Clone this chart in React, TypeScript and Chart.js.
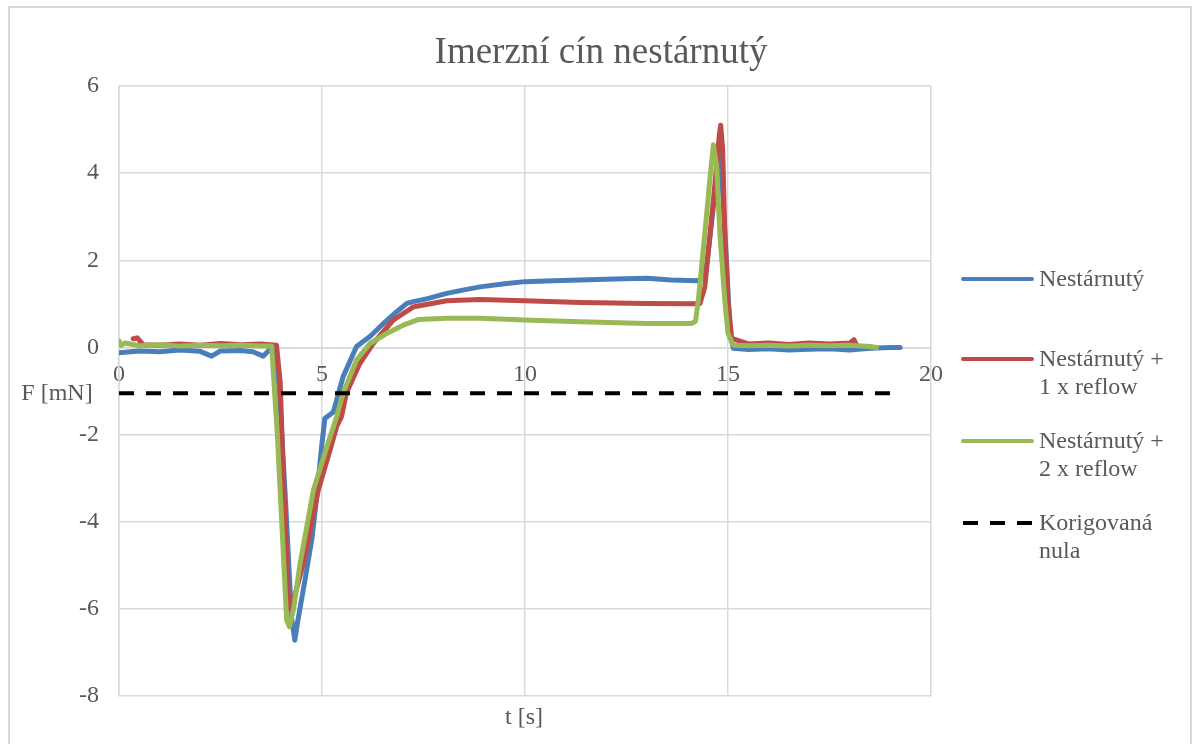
import React, { useEffect, useRef } from "react";
import { Chart, registerables } from "chart.js";

Chart.register(...registerables);

const TITLE = "Imerzní cín nestárnutý";
const X_TITLE = "t [s]";
const Y_TITLE = "F [mN]";

const SERIES_NAMES = ["Nestárnutý", "Nestárnutý + 1 x reflow", "Nestárnutý + 2 x reflow", "Korigovaná nula"];

const blueT = [0, 0.5, 1.0, 1.5, 2.0, 2.28, 2.5, 3.0, 3.3, 3.55, 3.7, 3.85, 3.95, 4.1, 4.25, 4.33, 4.4, 4.58, 4.75, 4.87, 4.99, 5.07, 5.28, 5.52, 5.85, 6.18, 6.47, 6.84, 7.09, 7.25, 7.6, 8.07, 8.5, 8.89, 9.5, 10.0, 10.7, 11.35, 12.2, 13.0, 13.6, 14.23, 14.3, 14.47, 14.64, 14.76, 14.8, 14.88, 14.97, 15.05, 15.13, 15.5, 16.0, 16.5, 17.0, 17.5, 18.0, 18.5, 19.0, 19.24];
const blueF = [-0.12, -0.08, -0.1, -0.06, -0.09, -0.2, -0.08, -0.07, -0.1, -0.2, -0.06, -0.05, -1.0, -3.5, -6.2, -6.72, -6.3, -5.34, -4.4, -3.43, -2.28, -1.63, -1.48, -0.67, 0.02, 0.25, 0.51, 0.82, 1.01, 1.05, 1.12, 1.24, 1.32, 1.39, 1.46, 1.51, 1.53, 1.55, 1.57, 1.59, 1.55, 1.53, 1.55, 1.85, 3.23, 4.15, 4.53, 3.38, 1.85, 0.32, -0.02, -0.05, -0.03, -0.06, -0.04, -0.03, -0.06, -0.02, 0.0, 0.0];

const redT = [0.35, 0.45, 0.6, 1.0, 1.5, 2.0, 2.5, 3.0, 3.5, 3.88, 3.97, 4.05, 4.17, 4.2, 4.3, 4.54, 4.91, 5.2, 5.36, 5.48, 5.6, 5.93, 6.26, 6.76, 7.25, 7.37, 8.07, 8.89, 10.0, 11.35, 13.0, 14.23, 14.31, 14.43, 14.56, 14.68, 14.79, 14.82, 14.87, 14.92, 15.0, 15.09, 15.5, 16.0, 16.5, 17.0, 17.5, 18.0, 18.1, 18.17];
const redF = [0.2, 0.22, 0.06, 0.05, 0.08, 0.05, 0.09, 0.06, 0.08, 0.05, -0.8, -3.0, -5.7, -5.99, -5.8, -4.96, -3.27, -2.35, -1.82, -1.59, -1.05, -0.37, 0.09, 0.63, 0.93, 0.95, 1.07, 1.1, 1.07, 1.03, 1.01, 1.0, 1.01, 1.39, 2.62, 3.77, 4.91, 5.1, 4.53, 2.62, 1.09, 0.21, 0.08, 0.1, 0.07, 0.1, 0.08, 0.1, 0.18, 0.05];

const greenT = [0, 0.05, 0.15, 0.5, 1.0, 1.5, 2.0, 2.5, 3.0, 3.5, 3.76, 3.9, 4.13, 4.2, 4.3, 4.46, 4.79, 5.12, 5.36, 5.52, 5.85, 6.18, 6.59, 7.0, 7.37, 8.07, 8.89, 10.0, 11.35, 13.0, 14.1, 14.2, 14.27, 14.43, 14.56, 14.64, 14.72, 14.8, 14.92, 15.0, 15.13, 15.5, 16.0, 16.5, 17.0, 17.5, 18.0, 18.5, 18.66];
const greenF = [0.15, 0.05, 0.1, 0.04, 0.06, 0.03, 0.05, 0.04, 0.05, 0.03, 0.03, -2.0, -6.26, -6.41, -6.0, -4.96, -3.27, -2.28, -1.59, -1.05, -0.29, 0.09, 0.32, 0.51, 0.64, 0.67, 0.67, 0.63, 0.59, 0.55, 0.55, 0.6, 1.09, 2.62, 3.92, 4.65, 4.15, 2.62, 1.09, 0.32, 0.05, 0.04, 0.05, 0.03, 0.05, 0.04, 0.05, 0.02, 0.0];

const zeroT = [0, 19];
const zeroF = [-1.05, -1.05];

const X_MIN = 0, X_MAX = 20, X_STEP = 5;
const Y_MIN = -8, Y_MAX = 6, Y_STEP = 2;

const COLORS = ["#4a7ebb", "#be4b48", "#98b954", "#000000"];
const TEXT_COLOR = "#595959";
const GRID_COLOR = "#d9d9d9";
const FONT = '"Liberation Serif", "Times New Roman", serif';

const zip = (t: number[], f: number[]) => t.map((x, i) => ({ x, y: f[i] }));

const textPlugin = {
  id: "texts",
  afterDraw(chart: any) {
    const ctx = chart.ctx as CanvasRenderingContext2D;
    ctx.save();
    ctx.fillStyle = TEXT_COLOR;
    ctx.textBaseline = "middle";
    ctx.textAlign = "center";
    ctx.font = `37px ${FONT}`;
    ctx.fillText(TITLE, 601, 53);
    ctx.font = `24px ${FONT}`;
    ctx.fillText(X_TITLE, 524, 718);
    ctx.fillText(Y_TITLE, 57, 394);

    // legend
    const items = [
      { lines: ["Nestárnutý"], y: 279, color: COLORS[0], dash: [] as number[] },
      { lines: ["Nestárnutý +", "1 x reflow"], y: 359, color: COLORS[1], dash: [] as number[] },
      { lines: ["Nestárnutý +", "2 x reflow"], y: 441, color: COLORS[2], dash: [] as number[] },
      { lines: ["Korigovaná", "nula"], y: 523, color: COLORS[3], dash: [15, 12] },
    ];
    ctx.textAlign = "left";
    items.forEach((it) => {
      ctx.save();
      ctx.strokeStyle = it.color;
      ctx.lineWidth = 4;
      ctx.lineCap = it.dash.length ? "butt" : "round";
      ctx.setLineDash(it.dash);
      ctx.beginPath();
      ctx.moveTo(963, it.y);
      ctx.lineTo(1032, it.y);
      ctx.stroke();
      ctx.restore();
      it.lines.forEach((ln, i) => {
        ctx.fillText(ln, 1039, it.y + 1 + i * 28);
      });
    });
    ctx.restore();
  },
};

export default function App() {
  const ref = useRef<HTMLCanvasElement | null>(null);

  useEffect(() => {
    if (!ref.current) return;
    const lineDs = (label: string, data: any[], color: string, order: number, dash: number[] = []) => ({
      label,
      data,
      borderColor: color,
      backgroundColor: color,
      borderWidth: 5,
      borderDash: dash,
      showLine: true,
      pointRadius: 0,
      pointHoverRadius: 0,
      tension: 0,
      fill: false,
      order,
      borderCapStyle: "round" as const,
      borderJoinStyle: "round" as const,
    });
    const chart = new Chart(ref.current, {
      type: "scatter",
      data: {
        datasets: [
          lineDs(SERIES_NAMES[0], zip(blueT, blueF), COLORS[0], 3),
          lineDs(SERIES_NAMES[1], zip(redT, redF), COLORS[1], 2),
          lineDs(SERIES_NAMES[2], zip(greenT, greenF), COLORS[2], 1),
          { ...lineDs(SERIES_NAMES[3], zip(zeroT, zeroF), COLORS[3], 0, [15, 12]), borderWidth: 4, borderCapStyle: "butt" as const },
        ],
      },
      options: {
        responsive: false,
        animation: false,
        layout: { padding: { left: 0, top: 86, right: 263, bottom: 48 } },
        plugins: {
          legend: { display: false },
          title: { display: false },
          tooltip: { enabled: false },
        },
        scales: {
          x: {
            type: "linear",
            position: { y: 0 } as any,
            min: X_MIN,
            max: X_MAX,
            ticks: {
              stepSize: X_STEP,
              color: TEXT_COLOR,
              font: { family: FONT, size: 24 },
              padding: 13,
              maxRotation: 0,
            },
            grid: { color: GRID_COLOR, lineWidth: 1.5, drawTicks: false },
            border: { color: GRID_COLOR, width: 1.5 },
          },
          y: {
            type: "linear",
            position: "left",
            min: Y_MIN,
            max: Y_MAX,
            ticks: {
              stepSize: Y_STEP,
              color: TEXT_COLOR,
              font: { family: FONT, size: 24 },
              padding: 20,
            },
            grid: { color: GRID_COLOR, lineWidth: 1.5, drawTicks: false },
            border: { color: GRID_COLOR, width: 1.5 },
            afterFit: (s: any) => {
              s.width = 119;
            },
          },
        },
      },
      plugins: [textPlugin],
    });
    return () => chart.destroy();
  }, []);

  return (
    <div>
      <div
        style={{
          position: "absolute",
          left: 8,
          top: 6,
          width: 1184,
          height: 738,
          border: "2px solid #d9d9d9",
          borderBottom: "none",
          boxSizing: "border-box",
          background: "#fff",
        }}
      />
      <canvas
        ref={ref}
        width={1194}
        height={744}
        style={{ position: "absolute", left: 0, top: 0, width: 1194, height: 744 }}
      />
    </div>
  );
}
